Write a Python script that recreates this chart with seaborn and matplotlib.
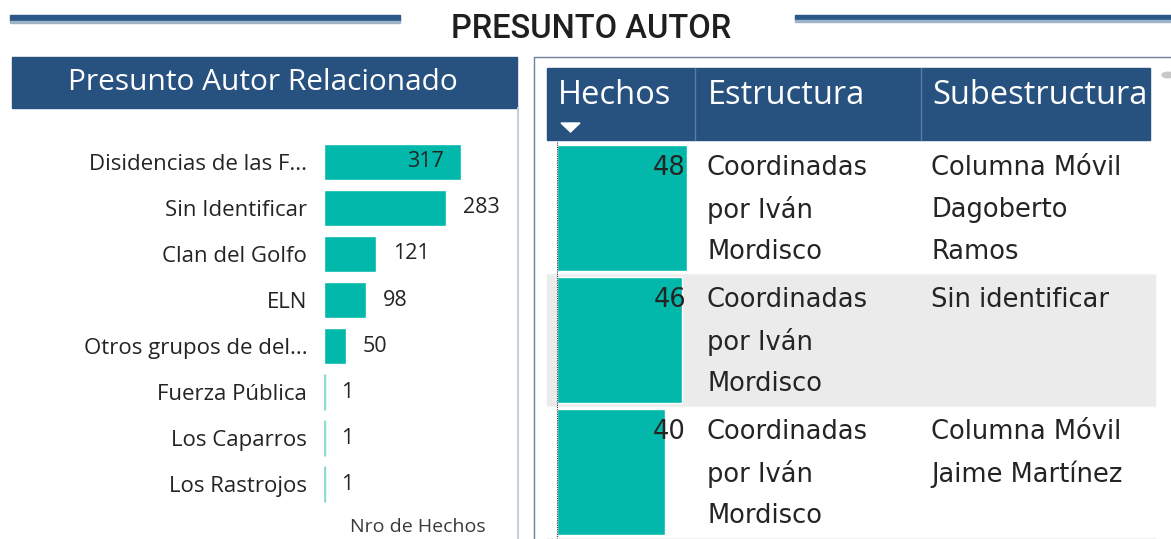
import matplotlib
matplotlib.use("Agg")
import matplotlib.pyplot as plt
from matplotlib.patches import Rectangle, Polygon, Circle
from matplotlib.lines import Line2D
import seaborn as sns
import pandas as pd

# ---------------- data ----------------
page_title = "PRESUNTO AUTOR"
bar_title = "Presunto Autor Relacionado"
autores = ["Disidencias de las F...", "Sin Identificar", "Clan del Golfo", "ELN",
           "Otros grupos de del...", "Fuerza Pública", "Los Caparros", "Los Rastrojos"]
hechos_autor = [317, 283, 121, 98, 50, 1, 1, 1]
x_axis_title = "Nro de Hechos"

table_columns = ["Hechos", "Estructura", "Subestructura"]
tabla_hechos = [48, 46, 40]
tabla_estructura = ["Coordinadas\npor Iván\nMordisco", "Coordinadas\npor Iván\nMordisco",
                    "Coordinadas\npor Iván\nMordisco"]
tabla_subestructura = ["Columna Móvil\nDagoberto\nRamos", "Sin identificar",
                       "Columna Móvil\nJaime Martínez"]

# ---------------- style ----------------
TEAL = "#01B8AA"
NAVY = "#27517F"
TEXT = "#252423"
W, H = 1171, 539

sns.set_theme(style="white")
plt.rcParams["font.family"] = ["Open Sans", "DejaVu Sans"]

fig = plt.figure(figsize=(W / 100, H / 100), dpi=100)
fig.patch.set_facecolor("white")


def fx(x):
    return x / W


def fy(y):
    return 1 - y / H


def frect(x0, y0, x1, y1, **kw):
    r = Rectangle((fx(x0), fy(y1)), fx(x1) - fx(x0), (y1 - y0) / H,
                  transform=fig.transFigure, **kw)
    fig.add_artist(r)
    return r


def fline(xs, ys, **kw):
    fig.add_artist(Line2D([fx(x) for x in xs], [fy(y) for y in ys],
                          transform=fig.transFigure, **kw))


# ---- page header ----
frect(10, 15, 400, 21, color="#2B5888", zorder=1)
frect(10, 21, 400, 23, color="#9fb3c8", zorder=1)
frect(795, 15, 1171, 20, color="#2B5888", zorder=1)
frect(795, 20, 1171, 22, color="#9fb3c8", zorder=1)
fig.text(fx(591), fy(29), page_title, ha="center", va="center",
         fontsize=23.5, color="#1f1f1f", family=["Roboto", "DejaVu Sans"],
         fontweight="medium")

# ---- left panel ----
frect(12, 57, 517, 108, color=NAVY, zorder=1)
fline([517.5, 517.5], [108, 539], color="#c5d0dc", lw=1.5)
fig.text(fx(263), fy(82), bar_title, ha="center", va="center",
         fontsize=21.5, color="white")

ax1 = fig.add_axes([fx(324), fy(507), 180 / W, 368 / H])
ax1.set_facecolor("none")
df1 = pd.DataFrame({"autor": autores, "hechos": hechos_autor})
sns.barplot(data=df1, x="hechos", y="autor", orient="h", color=TEAL,
            saturation=1, width=0.8, ax=ax1)
scale = 137 / 317  # px per unit
ax1.set_xlim(0, 180 / scale)
ax1.set_ylim(7.5, -0.5)
for s in ax1.spines.values():
    s.set_visible(False)
ax1.set_xticks([])
ax1.set_xlabel("")
ax1.set_ylabel("")
ax1.tick_params(axis="y", length=0, pad=12, labelsize=16, labelcolor=TEXT)
for p, v in zip(ax1.patches, hechos_autor):
    if v < 5:
        p.set_edgecolor("#8fdcd5")
        p.set_linewidth(2.5)
        p.set_facecolor("#8fdcd5")
    yc = p.get_y() + p.get_height() / 2
    if v * scale > 130:
        ax1.annotate(str(v), (v, yc), xytext=(-12, 0), textcoords="offset points",
                     ha="right", va="center", fontsize=15.5, color=TEXT)
    else:
        ax1.annotate(str(v), (v, yc), xytext=(12, 0), textcoords="offset points",
                     ha="left", va="center", fontsize=15.5, color=TEXT)
fig.text(fx(418), fy(527), x_axis_title, ha="center", va="center",
         fontsize=14, color="#3b3a39")

# ---- right panel ----
fline([534, 1171], [57, 57], color="#6f8299", lw=1)
fline([534, 534], [57, 539], color="#6f8299", lw=1)
fig.add_artist(Circle((fx(1168), fy(75)), 6 / W, transform=fig.transFigure,
                      color="#c8c8c8", zorder=1))

# header
frect(547, 68, 1150, 140, color=NAVY, zorder=1)
fline([695, 695], [68, 140], color="#5a7ca2", lw=1)
fline([921, 921], [68, 140], color="#5a7ca2", lw=1)
col_x = [558, 708, 932]
for cx, name in zip(col_x, table_columns):
    fig.text(fx(cx), fy(96), name, ha="left", va="center", fontsize=23.5,
             color="white")
fig.add_artist(Polygon([(fx(561), fy(123)), (fx(580), fy(123)), (fx(570.5), fy(132))],
                       closed=True, transform=fig.transFigure, color="white"))

row_top = 142
row_h = 132
line_gap = 42
for i in range(len(tabla_hechos)):
    y0 = row_top + i * row_h
    if i % 2 == 1:
        frect(547, y0 + 1, 1155, y0 + row_h - 1, color="#ebebeb", zorder=0)
    fline([547, 1155], [y0 + row_h, y0 + row_h], color="#f2f2f2", lw=1)

ax2 = fig.add_axes([fx(557), fy(row_top + 3 * row_h), 130 / W, 3 * row_h / H])
ax2.set_facecolor("none")
df2 = pd.DataFrame({"fila": [str(i) for i in range(len(tabla_hechos))],
                    "hechos": tabla_hechos})
sns.barplot(data=df2, x="hechos", y="fila", orient="h", color=TEAL,
            saturation=1, width=0.95, ax=ax2)
ax2.set_xlim(0, max(tabla_hechos))
ax2.set_ylim(len(tabla_hechos) - 0.5, -0.5)
ax2.axis("off")
fline([557, 557], [row_top, row_top + 3 * row_h], color="#333333", lw=0.8,
      linestyle=(0, (1, 1)))

body_font = dict(fontsize=18.5, color=TEXT, family=["DejaVu Sans"])
for i, (v, e, s) in enumerate(zip(tabla_hechos, tabla_estructura, tabla_subestructura)):
    y0 = row_top + i * row_h + 26
    fig.text(fx(686), fy(y0), str(v), ha="right", va="center", **body_font)
    for k, ln in enumerate(e.split("\n")):
        fig.text(fx(707), fy(y0 + k * line_gap), ln, ha="left", va="center", **body_font)
    for k, ln in enumerate(s.split("\n")):
        fig.text(fx(931), fy(y0 + k * line_gap), ln, ha="left", va="center", **body_font)

fig.savefig("out.png", dpi=100)
